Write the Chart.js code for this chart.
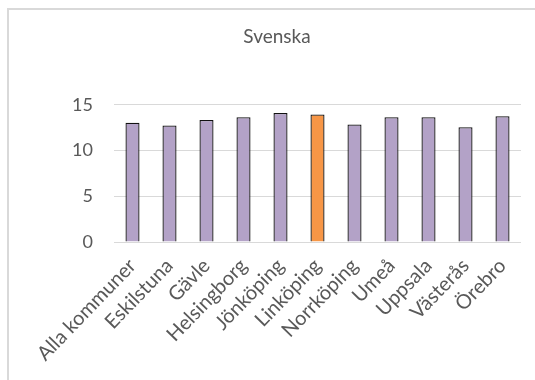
<!DOCTYPE html>
<html>
<head>
<meta charset="utf-8">
<script src="https://cdn.jsdelivr.net/npm/chart.js@4"></script>
<style>
html,body{margin:0;padding:0;background:#fff;}
#wrap{position:relative;width:535px;height:380px;overflow:hidden;}
#frame{position:absolute;left:7px;top:8px;width:600px;height:500px;border-left:2px solid #d9d9d9;border-top:2px solid #d9d9d9;box-sizing:border-box;}
canvas{position:absolute;left:0;top:0;}
</style>
</head>
<body>
<div id="wrap">
<div id="frame"></div>
<canvas id="c" width="535" height="380"></canvas>
</div>
<script>
const categories = ["Alla kommuner","Eskilstuna","Gävle","Helsingborg","Jönköping","Linköping","Norrköping","Umeå","Uppsala","Västerås","Örebro"];
const values = [13.05, 12.75, 13.35, 13.65, 14.1, 13.95, 12.85, 13.65, 13.65, 12.55, 13.75];
const highlight = "Linköping";
const yTicks = [0, 5, 10, 15];
const titleText = "Svenska";

const purple = "#B3A2C7";
const orange = "#F79646";
const textColor = "#595959";

new Chart(document.getElementById("c"), {
  type: "bar",
  data: {
    labels: categories,
    datasets: [{
      data: values,
      backgroundColor: categories.map(c => c === highlight ? orange : purple),
      borderColor: "#111111",
      borderWidth: 1.3,
      barPercentage: 0.38,
      categoryPercentage: 1
    }]
  },
  options: {
    responsive: false,
    animation: false,
    layout: { padding: { left: 33, right: 14, top: 0, bottom: 0 } },
    plugins: {
      legend: { display: false },
      tooltip: { enabled: false },
      title: {
        display: true,
        text: titleText,
        color: textColor,
        font: { family: "Lato", size: 19, weight: "normal" },
        padding: { top: 25, bottom: 57 }
      }
    },
    scales: {
      x: {
        grid: { display: false, drawTicks: false },
        border: { display: false },
        ticks: {
          color: textColor,
          font: { family: "Lato", size: 20 },
          minRotation: 46, maxRotation: 46,
          autoSkip: false,
          padding: 12
        },
        afterFit: s => { s.height = 138; }
      },
      y: {
        min: 0, max: 15,
        afterBuildTicks: s => { s.ticks = yTicks.map(v => ({ value: v })); },
        grid: { color: "#d9d9d9", lineWidth: 1, drawTicks: false },
        border: { display: false },
        ticks: {
          color: textColor,
          font: { family: "Lato", size: 18 },
          padding: 21
        },
        afterFit: s => { s.width = 81; }
      }
    }
  }
});
</script>
</body>
</html>
